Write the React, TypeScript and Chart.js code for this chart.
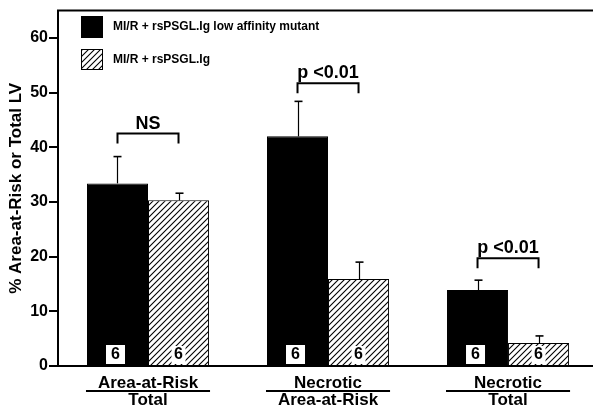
import React, { useEffect, useRef } from "react";
import { Chart, registerables } from "chart.js";

Chart.register(...registerables);

// ---- data ----
const categoryTop = ["Area-at-Risk", "Necrotic", "Necrotic"];
const categoryBottom = ["Total", "Area-at-Risk", "Total"];
const seriesNames = ["MI/R + rsPSGL.Ig low affinity mutant", "MI/R + rsPSGL.Ig"];
const mutantValues = [33.4, 42.0, 13.9];
const mutantErrors = [4.9, 6.4, 1.8];
const psglValues = [30.3, 15.9, 4.2];
const psglErrors = [1.3, 3.1, 1.3];
const mutantN = [6, 6, 6];
const psglN = [6, 6, 6];
const sigLabels = ["NS", "p <0.01", "p <0.01"];
const bracketLevels = [42.5, 51.7, 19.7];
const yMin = 0;
const yMax = 65;
const yStep = 10;
const yTitle = "% Area-at-Risk or Total LV";

const FONT = "'Liberation Sans', Arial, Helvetica, sans-serif";

function makeHatch(ctx: CanvasRenderingContext2D): CanvasPattern | string {
  const s = 6;
  const c = document.createElement("canvas");
  c.width = s;
  c.height = s;
  const p = c.getContext("2d");
  if (!p) return "#fff";
  p.fillStyle = "#fff";
  p.fillRect(0, 0, s, s);
  p.strokeStyle = "#000";
  p.lineWidth = 1.1;
  p.beginPath();
  p.moveTo(-1, s + 1);
  p.lineTo(s + 1, -1);
  p.moveTo(-1, 1);
  p.lineTo(1, -1);
  p.moveTo(s - 1, s + 1);
  p.lineTo(s + 1, s - 1);
  p.stroke();
  return ctx.createPattern(c, "repeat") || "#fff";
}

export default function App() {
  const ref = useRef<HTMLCanvasElement>(null);

  useEffect(() => {
    const canvas = ref.current;
    if (!canvas) return;
    const ctx0 = canvas.getContext("2d");
    if (!ctx0) return;
    const hatch = makeHatch(ctx0);

    const values = [mutantValues, psglValues];
    const errors = [mutantErrors, psglErrors];
    const ns = [mutantN, psglN];

    const annot = {
      id: "annot",
      afterDatasetsDraw(chart: any) {
        const ctx: CanvasRenderingContext2D = chart.ctx;
        const ys = chart.scales.y;
        const area = chart.chartArea;
        const metas = [chart.getDatasetMeta(0), chart.getDatasetMeta(1)];
        ctx.save();
        ctx.strokeStyle = "#000";
        ctx.fillStyle = "#000";

        // top frame line
        ctx.lineWidth = 2;
        ctx.beginPath();
        ctx.moveTo(area.left - 1, area.top);
        ctx.lineTo(area.right, area.top);
        ctx.stroke();

        // error bars (upper only)
        metas.forEach((meta, d) => {
          meta.data.forEach((bar: any, i: number) => {
            const yt = ys.getPixelForValue(values[d][i] + errors[d][i]);
            const x = Math.round(bar.x) + 0.5;
            ctx.lineWidth = 1.2;
            ctx.beginPath();
            ctx.moveTo(x, bar.y);
            ctx.lineTo(x, yt);
            ctx.stroke();
            ctx.lineWidth = 1.6;
            ctx.beginPath();
            ctx.moveTo(x - 4, yt);
            ctx.lineTo(x + 4, yt);
            ctx.stroke();
          });
        });

        // n labels
        ctx.font = `bold 16px ${FONT}`;
        ctx.textAlign = "center";
        ctx.textBaseline = "middle";
        metas.forEach((meta, d) => {
          meta.data.forEach((bar: any, i: number) => {
            const b = area.bottom;
            const cx = d === 0 ? bar.x - 2 : bar.x;
            const w = d === 0 ? 19 : 14;
            const h = d === 0 ? 19 : 18;
            ctx.fillStyle = "#fff";
            ctx.fillRect(cx - w / 2, b - 2 - h, w, h);
            ctx.fillStyle = "#000";
            ctx.fillText(String(ns[d][i]), cx, b - 11);
          });
        });

        // significance brackets
        for (let i = 0; i < sigLabels.length; i++) {
          const x1 = metas[0].data[i].x;
          const x2 = metas[1].data[i].x;
          const yb = ys.getPixelForValue(bracketLevels[i]);
          ctx.lineWidth = 2;
          ctx.beginPath();
          ctx.moveTo(x1, yb + 10);
          ctx.lineTo(x1, yb);
          ctx.lineTo(x2, yb);
          ctx.lineTo(x2, yb + 10);
          ctx.stroke();
          ctx.font = `bold 18px ${FONT}`;
          ctx.textAlign = "center";
          ctx.textBaseline = "alphabetic";
          ctx.fillText(sigLabels[i], (x1 + x2) / 2, yb - 5);
        }

        // category labels (fraction style)
        ctx.font = `bold 17px ${FONT}`;
        ctx.textAlign = "center";
        ctx.textBaseline = "middle";
        for (let i = 0; i < categoryTop.length; i++) {
          const b0: any = metas[0].data[i];
          const b1: any = metas[1].data[i];
          const left = b0.x - b0.width / 2;
          const right = b1.x + b1.width / 2;
          const cx = (left + right) / 2;
          const b = area.bottom;
          ctx.fillText(categoryTop[i], cx, b + 17);
          ctx.lineWidth = 2;
          ctx.beginPath();
          ctx.moveTo(left - 1, b + 25);
          ctx.lineTo(right + 1, b + 25);
          ctx.stroke();
          ctx.fillText(categoryBottom[i], cx, b + 34);
        }

        // legend
        const ds = chart.data.datasets;
        ctx.font = `bold 12px ${FONT}`;
        ctx.textAlign = "left";
        ctx.textBaseline = "middle";
        const rows = [
          { y: 16, h: 22 },
          { y: 49, h: 21 },
        ];
        rows.forEach((r, k) => {
          ctx.fillStyle = ds[k].backgroundColor;
          ctx.fillRect(81, r.y, 22, r.h);
          ctx.lineWidth = 1;
          ctx.strokeStyle = "#000";
          ctx.strokeRect(81.5, r.y + 0.5, 21, r.h - 1);
          ctx.fillStyle = "#000";
          ctx.fillText(ds[k].label, 113, r.y + r.h / 2);
        });

        ctx.restore();
      },
    };

    const chart = new Chart(canvas, {
      type: "bar",
      data: {
        datasets: [
          {
            label: seriesNames[0],
            data: mutantValues.map((v, i) => ({ x: i, y: v })),
            backgroundColor: "#000",
            borderColor: "#000",
            borderWidth: 1,
            borderSkipped: "bottom",
          },
          {
            label: seriesNames[1],
            data: psglValues.map((v, i) => ({ x: i, y: v })),
            backgroundColor: hatch as any,
            borderColor: "#000",
            borderWidth: 1,
            borderSkipped: "bottom",
          },
        ],
      },
      options: {
        responsive: false,
        animation: false,
        layout: { padding: { top: 10, right: 0, left: 0, bottom: 0 } },
        datasets: {
          bar: { categoryPercentage: 0.678, barPercentage: 1 },
        },
        plugins: {
          legend: { display: false },
          tooltip: { enabled: false },
        },
        scales: {
          x: {
            type: "linear",
            min: -0.5,
            max: 2.472,
            offset: false,
            ticks: { display: false, stepSize: 1, includeBounds: false },
            grid: { display: true, offset: false, drawOnChartArea: false, drawTicks: false },
            border: { display: true, color: "#000", width: 2 },
            afterFit: (scale: any) => {
              scale.height = 42;
            },
          },
          y: {
            type: "linear",
            min: yMin,
            max: yMax,
            ticks: {
              stepSize: yStep,
              includeBounds: false,
              color: "#000",
              font: { family: FONT, size: 16, weight: "bold" },
              padding: 1,
            },
            grid: {
              display: true,
              drawOnChartArea: false,
              drawTicks: true,
              tickLength: 9,
              tickColor: "#000",
              lineWidth: 2,
            },
            border: { display: true, color: "#000", width: 2 },
            title: {
              display: true,
              text: yTitle,
              color: "#000",
              font: { family: FONT, size: 17, weight: "bold" },
              padding: { top: 6, bottom: 0 },
            },
            afterFit: (scale: any) => {
              scale.width = 58;
            },
          },
        },
      } as any,
      plugins: [annot],
    });

    return () => chart.destroy();
  }, []);

  return (
    <div style={{ position: "absolute", left: 0, top: 0, width: 593, height: 408, background: "#fff" }}>
      <canvas ref={ref} width={593} height={408} style={{ display: "block" }} />
    </div>
  );
}
